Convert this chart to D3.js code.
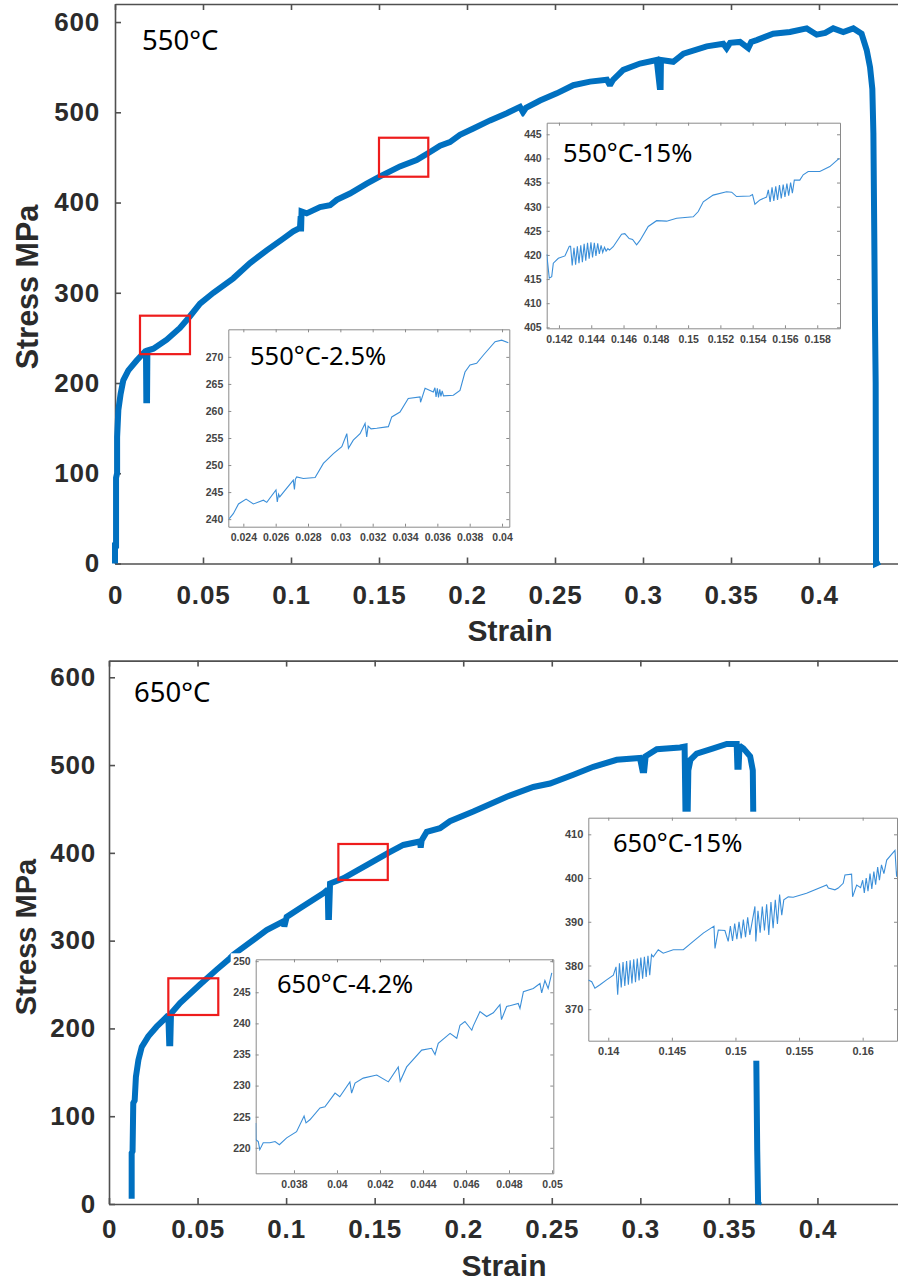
<!DOCTYPE html>
<html>
<head>
<meta charset="utf-8">
<script src="https://cdn.jsdelivr.net/npm/d3@7"></script>
<style>
  body { margin: 0; background: #fff; }
  svg { display: block; }
  .tick text { font-family: "Liberation Sans", Arial, sans-serif; font-weight: bold; }
</style>
</head>
<body>
<div id="chart"></div>
<script>
// ---------------- data ----------------
var mainXTicks = [0, 0.05, 0.1, 0.15, 0.2, 0.25, 0.3, 0.35, 0.4];
var mainYTicks = [0, 100, 200, 300, 400, 500, 600];

// 550 C tensile curve (strain, MPa)
var curve550 = [
  [0.0, 0], [0.0, 20], [0.0006, 20], [0.0006, 95], [0.0012, 100], [0.0012, 140],
  [0.0019, 170], [0.0032, 188], [0.0047, 203], [0.0076, 214], [0.0123, 225],
  [0.0161, 233], [0.0176, 236], [0.0178, 181], [0.0182, 181], [0.0184, 236],
  [0.0218, 238], [0.0294, 248], [0.0369, 261], [0.0426, 274], [0.0483, 288],
  [0.0559, 300], [0.0672, 316], [0.0767, 333], [0.0862, 347], [0.0956, 360],
  [0.1013, 368], [0.1051, 372], [0.1055, 385], [0.1057, 368], [0.106, 390],
  [0.1089, 388], [0.1165, 395], [0.1222, 397], [0.126, 403], [0.1335, 410],
  [0.143, 421], [0.1506, 429], [0.1619, 440], [0.1714, 447], [0.179, 456],
  [0.1847, 463], [0.1903, 467], [0.196, 475], [0.2036, 482], [0.2131, 491],
  [0.2226, 499], [0.2301, 506], [0.2318, 500], [0.2335, 505], [0.2415, 513],
  [0.251, 521], [0.2604, 530], [0.2699, 534], [0.2795, 536], [0.2812, 530],
  [0.283, 536], [0.2888, 547], [0.2983, 554], [0.3078, 558], [0.3095, 528],
  [0.31, 528], [0.3102, 558], [0.3172, 556], [0.323, 565], [0.3362, 573],
  [0.3456, 576], [0.3475, 571], [0.3495, 577], [0.3551, 578], [0.3598, 571],
  [0.3615, 578], [0.3646, 580], [0.374, 587], [0.3835, 589], [0.393, 593],
  [0.3987, 586], [0.4035, 588], [0.4081, 593], [0.4138, 589], [0.4195, 593],
  [0.4242, 587], [0.4271, 569], [0.429, 550], [0.4303, 526], [0.4309, 477],
  [0.4314, 366], [0.4318, 270], [0.4322, 200], [0.4324, 0], [0.4345, 2]
];

// 650 C tensile curve (strain, MPa)
var curve650 = [
  [0.0128, 6], [0.0128, 58], [0.0133, 60], [0.0137, 115], [0.0145, 118],
  [0.0152, 145], [0.0166, 164], [0.0185, 179], [0.0222, 191], [0.0269, 202],
  [0.0335, 215], [0.034, 183], [0.0346, 183], [0.035, 217], [0.0401, 229],
  [0.0514, 250], [0.0608, 267], [0.0683, 280], [0.0702, 284], [0.089, 312],
  [0.0985, 322], [0.099, 316], [0.1003, 327], [0.1078, 337], [0.121, 354],
  [0.1235, 358], [0.1238, 327], [0.1242, 327], [0.1248, 365], [0.1323, 371],
  [0.1455, 386], [0.1577, 400], [0.1662, 409], [0.1756, 413], [0.176, 406],
  [0.1765, 414], [0.1794, 424], [0.1869, 428], [0.1925, 436], [0.2057, 447],
  [0.2246, 464], [0.2396, 475], [0.249, 479], [0.2622, 489], [0.2735, 498],
  [0.2867, 506], [0.2998, 508], [0.3012, 494], [0.3022, 494], [0.303, 510],
  [0.3093, 518], [0.3224, 520], [0.325, 521], [0.3256, 430], [0.3266, 430],
  [0.3271, 494], [0.3283, 506], [0.3318, 513], [0.3412, 519], [0.3488, 524],
  [0.3544, 524], [0.3548, 498], [0.3555, 498], [0.356, 522], [0.3582, 519],
  [0.362, 510], [0.3635, 494], [0.3645, 300], [0.3655, 160], [0.366, 60],
  [0.3665, 0], [0.3672, 3]
];

// zoomed windows (red boxes): [strain0, strain1, stress0, stress1]
var boxes550 = [[0.0142, 0.0426, 232, 274.6], [0.150, 0.178, 428.6, 471.8]];
var boxes650 = [[0.0335, 0.0617, 215.3, 257.1], [0.1295, 0.1574, 369.1, 410.1]];

// inset 550C-2.5%
var ticksX550a = [0.024, 0.026, 0.028, 0.03, 0.032, 0.034, 0.036, 0.038, 0.04];
var ticksY550a = [240, 245, 250, 255, 260, 265, 270];
var zoom550a = [
  [0.02313, 240.1], [0.02338, 241], [0.0237, 242.8], [0.02417, 243.7], [0.02462, 242.8],
  [0.02524, 243.5], [0.02545, 243.1], [0.02602, 245.4], [0.0261, 243.2], [0.02618, 244.6],
  [0.02625, 244.1], [0.02665, 245.6], [0.02709, 247.2], [0.02716, 245.5], [0.02722, 247.4],
  [0.0273, 247.8], [0.02771, 247.5], [0.02844, 247.7], [0.02895, 250.3], [0.02957, 252.1],
  [0.03009, 253.4], [0.0304, 255.8], [0.0305, 253.1], [0.0308, 254.6], [0.03122, 255.8],
  [0.03153, 257.7], [0.03163, 255.2], [0.03172, 257.2], [0.0319, 256.7], [0.03225, 256.8],
  [0.03297, 257.1], [0.03318, 258.9], [0.03369, 259.8], [0.0342, 262.3], [0.03493, 262.6],
  [0.03496, 261.6], [0.03524, 264.2], [0.03575, 263.5], [0.03585, 264.3], [0.03592, 262.6],
  [0.036, 264.2], [0.03607, 262.5], [0.03615, 264.0], [0.03622, 262.7], [0.0363, 263.7],
  [0.03638, 262.8], [0.03699, 262.9], [0.0374, 263.8], [0.03771, 267.2], [0.03802, 268.5],
  [0.03843, 268.8], [0.03884, 270.3], [0.03957, 272.8], [0.03998, 273.1], [0.04039, 272.6]
];

// inset 550C-15%
var ticksX550b = [0.142, 0.144, 0.146, 0.148, 0.15, 0.152, 0.154, 0.156, 0.158];
var ticksY550b = [405, 410, 415, 420, 425, 430, 435, 440, 445];
var zoom550b = [
  [0.14124, 420.2], [0.1414, 415.2], [0.14155, 415.5], [0.14165, 418.3], [0.14196, 419.3],
  [0.14237, 419.8], [0.14264, 421.8], [0.14272, 421.8], [0.14282, 417.8], [0.14293, 421.5],
  [0.14303, 418.0], [0.14314, 421.8], [0.14324, 418.3], [0.14335, 422.0], [0.14345, 418.5],
  [0.14356, 422.3], [0.14366, 418.8], [0.14377, 422.5], [0.14387, 419.2], [0.14398, 422.6],
  [0.14408, 419.5], [0.14419, 422.5], [0.14429, 419.8], [0.1444, 422.4], [0.1445, 420.2],
  [0.14461, 422.0], [0.14471, 420.5], [0.14482, 421.6], [0.14492, 420.8], [0.14503, 421.3],
  [0.14513, 421.0], [0.14536, 421.7], [0.14588, 424.3], [0.14608, 424.4], [0.14635, 423.4],
  [0.14656, 423.2], [0.14681, 422.1], [0.14702, 423.0], [0.14753, 425.9], [0.14805, 427.1],
  [0.14867, 427.0], [0.14929, 427.6], [0.15032, 427.9], [0.15063, 429.0], [0.15094, 431.0],
  [0.15155, 432.4], [0.15238, 433.1], [0.1527, 433.0], [0.153, 432.1], [0.15383, 432.2],
  [0.15399, 432.5], [0.15414, 430.5], [0.15445, 431.4], [0.15486, 432.0], [0.15497, 433.5],
  [0.15508, 431.0], [0.1552, 434.0], [0.15531, 431.2], [0.15543, 434.2], [0.15554, 431.4],
  [0.15566, 434.5], [0.15577, 431.7], [0.15589, 434.6], [0.156, 432.0], [0.15612, 434.8],
  [0.15623, 432.3], [0.15635, 435.0], [0.15646, 432.8], [0.15658, 435.5], [0.15692, 435.5],
  [0.15713, 436.6], [0.15744, 437.3], [0.15816, 437.3], [0.15878, 438.3], [0.15936, 440.0]
];

// inset 650C-4.2%
var ticksX650a = [0.038, 0.04, 0.042, 0.044, 0.046, 0.048, 0.05];
var ticksY650a = [220, 225, 230, 235, 240, 245, 250];
var zoom650a = [
  [0.03622, 224], [0.03623, 221.3], [0.03634, 221], [0.03641, 219.7], [0.03657, 220.8],
  [0.03688, 220.8], [0.03712, 221], [0.03732, 220.5], [0.03766, 221.6], [0.03812, 222.6],
  [0.03847, 225.1], [0.03856, 224], [0.03874, 224.5], [0.03921, 226.4], [0.03944, 226.6],
  [0.03991, 228.8], [0.04013, 228.2], [0.0406, 230.6], [0.04068, 228.8], [0.04084, 230.4],
  [0.04122, 231.2], [0.04185, 231.7], [0.04239, 230.6], [0.04285, 233], [0.04294, 230.7],
  [0.04324, 233], [0.04394, 235.7], [0.0444, 236], [0.04456, 235], [0.04471, 236.8],
  [0.04526, 238.4], [0.04557, 237.6], [0.04572, 239.7], [0.04595, 240.3], [0.04627, 238.9],
  [0.04634, 239.6], [0.04665, 241.9], [0.04696, 241.1], [0.04727, 241.7], [0.04758, 243],
  [0.04765, 240.6], [0.04789, 242.7], [0.04843, 243.2], [0.04851, 242.4], [0.04867, 245.1],
  [0.04913, 245.6], [0.04944, 246.4], [0.04952, 244.9], [0.04967, 246.9], [0.04982, 245.6],
  [0.04999, 248.1]
];

// inset 650C-15%
var ticksX650b = [0.14, 0.145, 0.15, 0.155, 0.16];
var ticksY650b = [370, 380, 390, 400, 410];
var zoom650b = [
  [0.13843, 376.7], [0.1387, 376.3], [0.13895, 374.8], [0.13935, 375.6], [0.13987, 376.7],
  [0.1404, 377.8], [0.14061, 379.7], [0.14074, 373.3], [0.14088, 380.5], [0.14102, 375.0],
  [0.14116, 380.8], [0.1413, 375.3], [0.14144, 381.0], [0.14158, 375.6], [0.14172, 381.2],
  [0.14186, 375.9], [0.142, 381.4], [0.14214, 376.2], [0.14228, 381.6], [0.14242, 376.6],
  [0.14256, 381.8], [0.1427, 377.0], [0.14284, 382.0], [0.14298, 377.4], [0.14312, 382.2],
  [0.14326, 377.8], [0.1434, 382.5], [0.14354, 382.0], [0.14393, 383.6], [0.14432, 382.8],
  [0.14511, 383.6], [0.1459, 383.6], [0.14668, 385.5], [0.14747, 387.4], [0.14831, 389.0],
  [0.14839, 383.9], [0.14865, 388.1], [0.14917, 388.0], [0.14943, 385.5], [0.1496, 389.0],
  [0.14977, 385.6], [0.14994, 389.6], [0.15011, 386.0], [0.15028, 390.0], [0.15045, 386.2],
  [0.15062, 390.5], [0.15079, 386.5], [0.15096, 391.0], [0.15113, 387.0], [0.15153, 393.5],
  [0.1516, 385.5], [0.15177, 392.5], [0.15194, 387.5], [0.15211, 393.5], [0.15228, 388.0],
  [0.15245, 394.0], [0.15262, 387.0], [0.15279, 394.5], [0.15296, 388.5], [0.15313, 395.0],
  [0.1533, 389.5], [0.15347, 396.2], [0.15364, 391.5], [0.1538, 395.0], [0.15415, 395.7],
  [0.15454, 395.6], [0.15559, 396.5], [0.15717, 398.4], [0.1573, 397.7], [0.15782, 397.3],
  [0.15808, 397.7], [0.15847, 398.8], [0.15861, 400.7], [0.15913, 400.9], [0.15921, 395.7],
  [0.15953, 398.4], [0.15984, 397.8], [0.16, 399.5], [0.16013, 396.6], [0.16028, 400.0],
  [0.16042, 397.0], [0.16058, 401.0], [0.16072, 397.5], [0.16088, 401.5], [0.16102, 398.5],
  [0.16118, 402.5], [0.16132, 399.5], [0.16148, 403.0], [0.16167, 401.0], [0.16189, 404.1],
  [0.16254, 406.3], [0.16267, 400.3], [0.1627, 401.5]
];

////////////////////////////////////////////////////////////////////////////////

var W = 898, H = 1285;
var mainBlue = "#0070c0";
var insetBlue = "#3b8fd9";
var axisGrey = "#505050";
var textGrey = "#2b2b2b";

var svg = d3.select("#chart").append("svg")
    .attr("width", W)
    .attr("height", H);

function styleAxis(g, col, w)
{
    g.selectAll(".domain").attr("stroke", col).attr("stroke-width", w);
    g.selectAll(".tick line").attr("stroke", col).attr("stroke-width", w);
}

function drawPanel(p)
{
    var x = d3.scaleLinear().domain([0, 0.45]).range([p.left, p.right]);
    var y = d3.scaleLinear().domain([0, p.ymax]).range([p.bottom, p.top]);
    var g = svg.append("g");

    var fmt = function(d) { return String(d); };

    var ax = g.append("g")
        .attr("transform", "translate(0," + p.bottom + ")")
        .call(d3.axisBottom(x).tickValues(mainXTicks).tickSizeInner(-6)
              .tickSizeOuter(0).tickPadding(p.xPad).tickFormat(fmt));
    var axTop = g.append("g")
        .attr("transform", "translate(0," + p.top + ")")
        .call(d3.axisTop(x).tickValues(mainXTicks).tickSizeInner(-6)
              .tickSizeOuter(0).tickFormat(""));
    var ay = g.append("g")
        .attr("transform", "translate(" + p.left + ",0)")
        .call(d3.axisLeft(y).tickValues(mainYTicks).tickSizeInner(-6)
              .tickSizeOuter(0).tickPadding(p.yPad).tickFormat(fmt));

    [ax, axTop, ay].forEach(function(a) { styleAxis(a, axisGrey, 1.6); });
    g.selectAll(".tick text")
        .attr("fill", textGrey)
        .attr("font-size", "26px")
        .attr("letter-spacing", "0.8px");

    var line = d3.line()
        .x(function(d) { return x(d[0]); })
        .y(function(d) { return y(d[1]); });

    g.append("path")
        .datum(p.curve)
        .attr("d", line)
        .attr("fill", "none")
        .attr("stroke", mainBlue)
        .attr("stroke-width", 6)
        .attr("stroke-linejoin", "miter")
        .attr("stroke-miterlimit", 2);

    g.selectAll(".zoombox")
        .data(p.boxes)
        .enter().append("rect")
        .attr("class", "zoombox")
        .attr("x", function(d) { return x(d[0]); })
        .attr("y", function(d) { return y(d[3]); })
        .attr("width", function(d) { return x(d[1]) - x(d[0]); })
        .attr("height", function(d) { return y(d[2]) - y(d[3]); })
        .attr("fill", "none")
        .attr("stroke", "#ee1c1c")
        .attr("stroke-width", 2.2);

    // axis titles
    g.append("text")
        .attr("x", p.xTitle[0]).attr("y", p.xTitle[1])
        .attr("text-anchor", "middle")
        .attr("font-family", "Liberation Sans, Arial, sans-serif")
        .attr("font-weight", "bold")
        .attr("font-size", "30px")
        .attr("fill", textGrey)
        .text("Strain");

    g.append("text")
        .attr("transform", "translate(" + p.yTitle[0] + "," + p.yTitle[1] + ") rotate(-90)")
        .attr("text-anchor", "middle")
        .attr("font-family", "Liberation Sans, Arial, sans-serif")
        .attr("font-weight", "bold")
        .attr("font-size", p.yTitleSize + "px")
        .attr("fill", textGrey)
        .text("Stress MPa");

    p.insets.forEach(drawInset);

    g.append("text")
        .attr("x", p.label[0]).attr("y", p.label[1])
        .attr("font-family", "Noto Sans, Open Sans, sans-serif")
        .attr("font-size", "27.5px")
        .attr("fill", "#000")
        .text(p.labelText);
}

function drawInset(s)
{
    var g = svg.append("g");
    var x = d3.scaleLinear().domain(s.xdom).range([s.x0, s.x1]);
    var y = d3.scaleLinear().domain(s.ydom).range([s.y1, s.y0]);

    // white backing that hides the main curve behind the inset
    g.append("rect")
        .attr("x", s.x0 - s.padL)
        .attr("y", s.y0 - 6)
        .attr("width", s.x1 - s.x0 + s.padL + 8)
        .attr("height", s.y1 - s.y0 + 26)
        .attr("fill", "#fff");

    var inGrey = "#8a8a8a";
    var fmt = function(d) { return String(d); };

    var ax = g.append("g")
        .attr("transform", "translate(0," + s.y1 + ")")
        .call(d3.axisBottom(x).tickValues(s.xt).tickSizeInner(-3)
              .tickSizeOuter(0).tickPadding(7).tickFormat(fmt));
    var axT = g.append("g")
        .attr("transform", "translate(0," + s.y0 + ")")
        .call(d3.axisTop(x).tickValues(s.xt).tickSizeInner(-3)
              .tickSizeOuter(0).tickFormat(""));
    var ay = g.append("g")
        .attr("transform", "translate(" + s.x0 + ",0)")
        .call(d3.axisLeft(y).tickValues(s.yt).tickSizeInner(-3)
              .tickSizeOuter(0).tickPadding(5).tickFormat(fmt));
    var ayR = g.append("g")
        .attr("transform", "translate(" + s.x1 + ",0)")
        .call(d3.axisRight(y).tickValues(s.yt).tickSizeInner(-3)
              .tickSizeOuter(0).tickFormat(""));

    [ax, axT, ay, ayR].forEach(function(a) { styleAxis(a, inGrey, 1); });
    g.selectAll(".tick text")
        .attr("fill", "#444")
        .attr("font-size", s.fs + "px");

    var clipId = "clip" + s.id;
    g.append("clipPath").attr("id", clipId)
        .append("rect")
        .attr("x", s.x0).attr("y", s.y0)
        .attr("width", s.x1 - s.x0).attr("height", s.y1 - s.y0);

    var line = d3.line()
        .x(function(d) { return x(d[0]); })
        .y(function(d) { return y(d[1]); });

    g.append("path")
        .datum(s.data)
        .attr("d", line)
        .attr("clip-path", "url(#" + clipId + ")")
        .attr("fill", "none")
        .attr("stroke", insetBlue)
        .attr("stroke-width", 1.1);

    g.append("text")
        .attr("x", s.label[0]).attr("y", s.label[1])
        .attr("font-family", "Noto Sans, Open Sans, sans-serif")
        .attr("font-size", "25.5px")
        .attr("fill", "#000")
        .text(s.text);
}

drawPanel({
    left: 115, right: 907, top: 4, bottom: 563.5, ymax: 620,
    xPad: 22, yPad: 15,
    curve: curve550, boxes: boxes550,
    xTitle: [510, 641], yTitle: [38, 287], yTitleSize: 30.5,
    label: [142, 50], labelText: "550°C",
    insets: [
        { id: "a", x0: 228.3, x1: 509.3, y0: 329.3, y1: 526.7,
          xdom: [0.02307, 0.04045], ydom: [238.6, 275.1], padL: 26, fs: 10.5,
          xt: ticksX550a, yt: ticksY550a, data: zoom550a,
          text: "550°C-2.5%", label: [250, 365] },
        { id: "b", x0: 546.7, x1: 840, y0: 122.7, y1: 328.3,
          xdom: [0.14124, 0.15941], ydom: [404.8, 447.4], padL: 28, fs: 10.5,
          xt: ticksX550b, yt: ticksY550b, data: zoom550b,
          text: "550°C-15%", label: [563, 161.5] }
    ]
});

drawPanel({
    left: 109, right: 906, top: 660.6, bottom: 1204, ymax: 619,
    xPad: 16, yPad: 13,
    curve: curve650, boxes: boxes650,
    xTitle: [504, 1276], yTitle: [36, 937], yTitleSize: 29,
    label: [134, 701.5], labelText: "650°C",
    insets: [
        { id: "c", x0: 255.7, x1: 553.3, y0: 959.3, y1: 1173.3,
          xdom: [0.03622, 0.05006], ydom: [215.9, 250.3], padL: 25, fs: 10.5,
          xt: ticksX650a, yt: ticksY650a, data: zoom650a,
          text: "650°C-4.2%", label: [277, 993] },
        { id: "d", x0: 588.3, x1: 897, y0: 817.7, y1: 1040.7,
          xdom: [0.13843, 0.1627], ydom: [362.8, 413.8], padL: 26, fs: 11,
          xt: ticksX650b, yt: ticksY650b, data: zoom650b,
          text: "650°C-15%", label: [613, 852] }
    ]
});
</script>
</body>
</html>
